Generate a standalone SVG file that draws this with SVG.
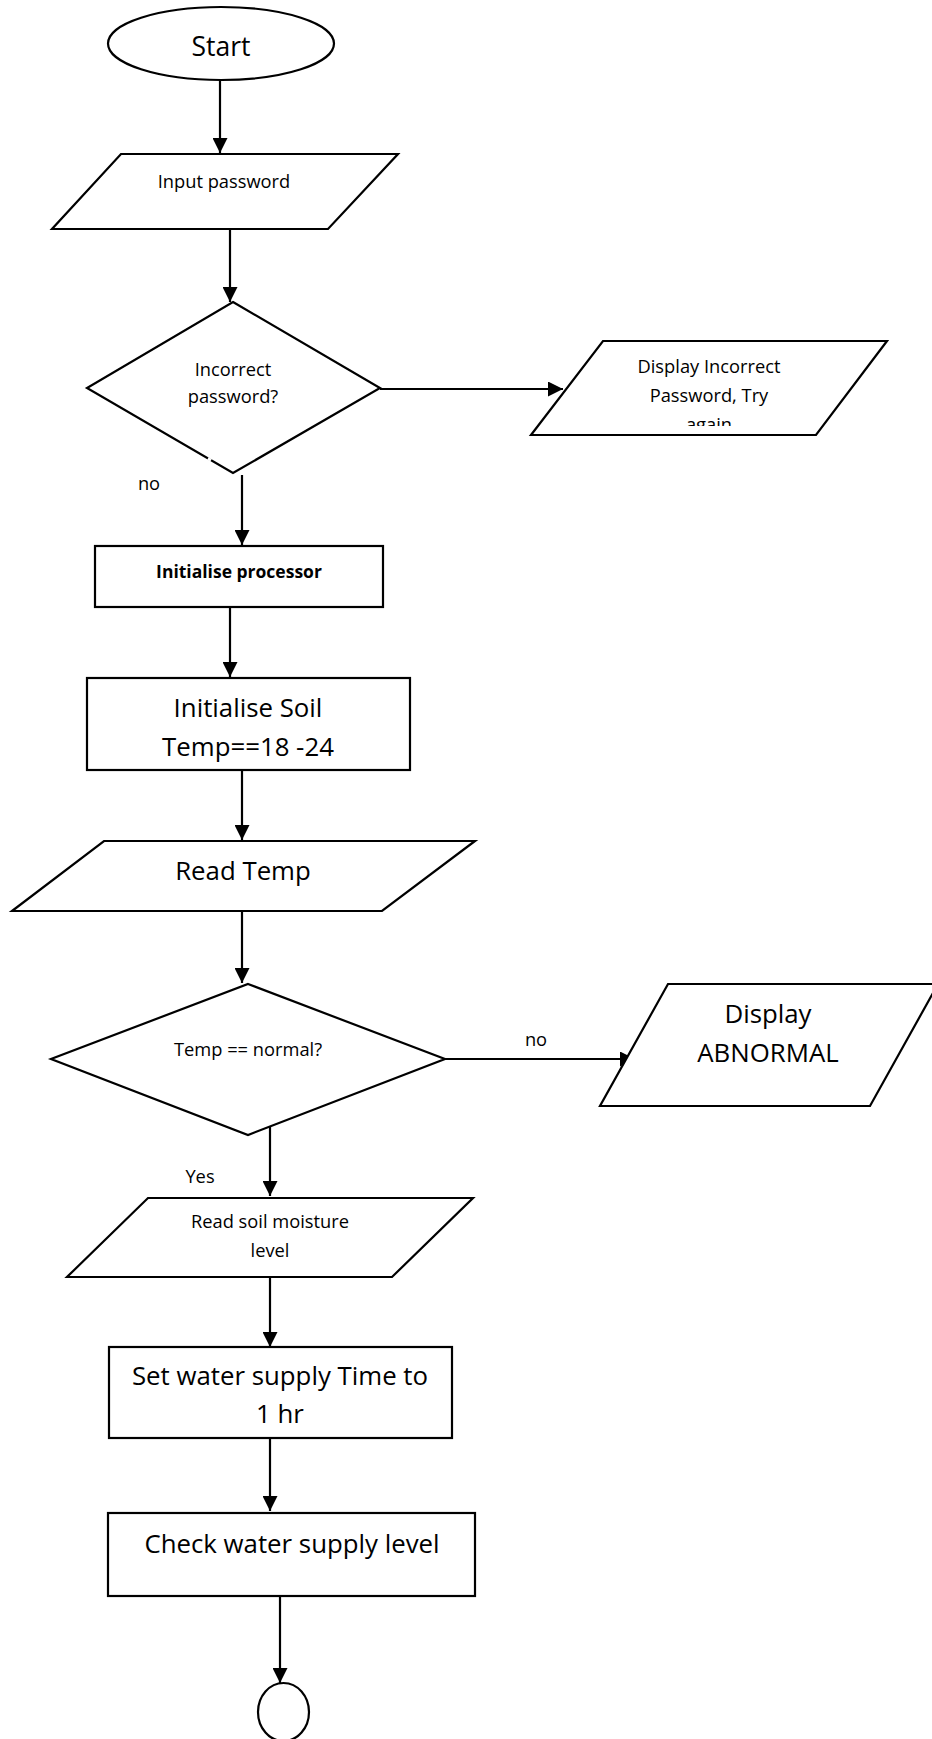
<svg xmlns="http://www.w3.org/2000/svg" width="932" height="1739" viewBox="0 0 932 1739">
<style>
.shape{fill:#fff;stroke:#000;stroke-width:2.2}
.conn{fill:none;stroke:#000;stroke-width:2.2}
text{font-family:"Open Sans","Noto Sans","Liberation Sans",sans-serif;fill:#000;text-anchor:middle}
.s18{font-size:18.3px}
.s25{font-size:25.8px}
.b{font-weight:bold;font-size:17.5px}
</style>
<defs>
<marker id="arr" markerUnits="userSpaceOnUse" markerWidth="15" markerHeight="15" viewBox="0 0 15 15" refX="15" refY="7.5" orient="auto">
<path d="M0,0 L15,7.5 L0,15 z" fill="#000"/>
</marker>
<clipPath id="clipAgain"><rect x="520" y="340" width="380" height="86"/></clipPath>
</defs>
<rect width="932" height="1739" fill="#fff"/>

<g id="connectors">
<line class="conn" x1="220" y1="80" x2="220" y2="153" marker-end="url(#arr)"/>
<line class="conn" x1="230" y1="229" x2="230" y2="302" marker-end="url(#arr)"/>
<line class="conn" x1="380" y1="389" x2="563" y2="389" marker-end="url(#arr)"/>
<line class="conn" x1="242" y1="475" x2="242" y2="545" marker-end="url(#arr)"/>
<line class="conn" x1="230" y1="607" x2="230" y2="677" marker-end="url(#arr)"/>
<line class="conn" x1="242" y1="770" x2="242" y2="840" marker-end="url(#arr)"/>
<line class="conn" x1="242" y1="911" x2="242" y2="983" marker-end="url(#arr)"/>
<line class="conn" x1="445" y1="1059" x2="635" y2="1059" marker-end="url(#arr)"/>
<line class="conn" x1="270" y1="1124" x2="270" y2="1196" marker-end="url(#arr)"/>
<line class="conn" x1="270" y1="1277" x2="270" y2="1347" marker-end="url(#arr)"/>
<line class="conn" x1="270" y1="1438" x2="270" y2="1511" marker-end="url(#arr)"/>
<line class="conn" x1="280" y1="1596" x2="280" y2="1683" marker-end="url(#arr)"/>
<text class="s18" x="149" y="490">no</text>
<text class="s18" x="536" y="1046">no</text>
<text class="s18" x="200" y="1183">Yes</text>
</g>

<g id="start">
<ellipse class="shape" cx="221" cy="43.5" rx="113" ry="36.5"/>
<text x="221" y="56" style="font-size:26.5px">Start</text>
</g>

<g id="input-password">
<polygon class="shape" points="121,154 398,154 328,229 52,229"/>
<text class="s18" x="224" y="188">Input password</text>
</g>

<g id="incorrect-password">
<polygon class="shape" points="233,302 380,388 233,473 87,388"/>
<line x1="208" y1="458.4" x2="211" y2="460.2" stroke="#fff" stroke-width="3"/>
<text class="s18" x="233" y="376">Incorrect</text>
<text class="s18" x="233" y="403">password?</text>
</g>

<g id="display-incorrect">
<polygon class="shape" points="603,341 887,341 816,435 531,435"/>
<text class="s18" x="709" y="373">Display Incorrect</text>
<text class="s18" x="709" y="402">Password, Try</text>
<text class="s18" x="709" y="431" clip-path="url(#clipAgain)">again</text>
</g>

<g id="init-processor">
<rect class="shape" x="95" y="546" width="288" height="61"/>
<text class="b" x="239" y="578">Initialise processor</text>
</g>

<g id="init-soil">
<rect class="shape" x="87" y="678" width="323" height="92"/>
<text class="s25" x="248" y="717">Initialise Soil</text>
<text class="s25" x="248" y="756">Temp==18 -24</text>
</g>

<g id="read-temp">
<polygon class="shape" points="104,841 475,841 382,911 12,911"/>
<text class="s25" x="243" y="880">Read Temp</text>
</g>

<g id="temp-normal">
<polygon class="shape" points="248,984 445,1059 248,1135 51,1059"/>
<text class="s18" x="248" y="1056">Temp == normal?</text>
</g>

<g id="display-abnormal">
<polygon class="shape" points="668,984 938,984 870,1106 600,1106"/>
<text class="s25" x="768" y="1023">Display</text>
<text class="s25" x="768" y="1062">ABNORMAL</text>
</g>

<g id="read-soil">
<polygon class="shape" points="148,1198 473,1198 392,1277 67,1277"/>
<text class="s18" x="270" y="1228">Read soil moisture</text>
<text class="s18" x="270" y="1257">level</text>
</g>

<g id="set-water">
<rect class="shape" x="109" y="1347" width="343" height="91"/>
<text class="s25" x="280" y="1385">Set water supply Time to</text>
<text class="s25" x="280" y="1423">1 hr</text>
</g>

<g id="check-water">
<rect class="shape" x="108" y="1513" width="367" height="83"/>
<text class="s25" x="292" y="1553">Check water supply level</text>
</g>

<g id="connector-end">
<ellipse class="shape" cx="283.5" cy="1712" rx="25.5" ry="29"/>
</g>
</svg>
